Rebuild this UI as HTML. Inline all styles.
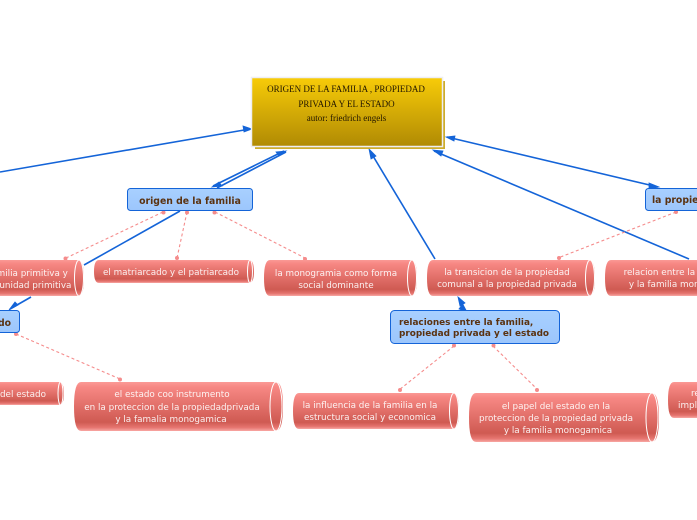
<!DOCTYPE html>
<html><head><meta charset="utf-8">
<style>
html,body{margin:0;padding:0;background:#fff;width:697px;height:520px;overflow:hidden}
svg{display:block}
.w{font:8.8px "DejaVu Sans",sans-serif;fill:#fff;text-anchor:middle;opacity:.9}
.b{font:bold 9.3px "DejaVu Sans",sans-serif;fill:#5a3210}
.s{font:9px "Liberation Serif",serif;fill:#221600;text-anchor:middle}
.blue{fill:url(#bl);stroke:#1464d8;stroke-width:1}
.ln{stroke:#1464d8;stroke-width:1.6;fill:none}
.ar{fill:#1464d8;stroke:#1464d8;stroke-width:.8}
.d{stroke:#f58c8c;stroke-width:1.1;stroke-dasharray:3 2.5;fill:none}
.dot{fill:#f58c8c}
.e{fill:none;stroke:#fff;stroke-width:1}
</style></head><body>
<svg width="697" height="520" viewBox="0 0 697 520" xmlns="http://www.w3.org/2000/svg">
<defs>
<linearGradient id="gold" x1="0" y1="0" x2="0" y2="1"><stop offset="0" stop-color="#f8cc08"/><stop offset="1" stop-color="#b08a04"/></linearGradient>
<linearGradient id="bl" x1="0" y1="0" x2="0" y2="1"><stop offset="0" stop-color="#a8d0ff"/><stop offset="1" stop-color="#9cc6fc"/></linearGradient>
<linearGradient id="cy" x1="0" y1="0" x2="0" y2="1"><stop offset="0" stop-color="#fb9a96"/><stop offset=".1" stop-color="#f78884"/><stop offset=".82" stop-color="#cf5a52"/><stop offset=".93" stop-color="#e67570"/><stop offset="1" stop-color="#f8a8a4"/></linearGradient>
</defs>

<!-- connectors -->
<g class="ln">
<path d="M0 172L250 129"/>
<path d="M213 186L284 151"/><path d="M217 188L286 152"/>
<path d="M180 211L84 265"/><path d="M31 297L10 309"/>
<path d="M435 259L370 151"/>
<path d="M689 259L434 151"/>
<path d="M447 137L658 187"/>
<path d="M459 298L466 311"/>
</g>
<g class="ar">
<path d="M252 129L243 126L244 132Z"/>
<path d="M286 151L276 152L279 156Z"/>
<path d="M212 187L222 186L219 182Z"/>
<path d="M369 149L371 159L376 156Z"/>
<path d="M433 150L441 156L443 151Z"/>
<path d="M446 137L455 136L454 141Z"/>
<path d="M659 187L649 183L649 189Z"/>
<path d="M9 310L18 305L15 302Z"/>
<path d="M458 297L460 306L465 303Z"/>
<path d="M467 312L462 305L459 309Z"/>
</g>
<g class="d">
<path d="M163 212L66 258"/>
<path d="M187 212L177 258"/>
<path d="M215 212L305 258"/>
<path d="M676 212L558 258"/>
<path d="M16 334L120 379"/>
<path d="M454 346L399 390"/>
<path d="M493 346L538 390"/>
</g>
<g class="dot">
<circle cx="163.500" cy="212.500" r="2"/><circle cx="65.500" cy="258.500" r="2"/>
<circle cx="187" cy="212.500" r="2"/><circle cx="177" cy="258" r="2"/>
<circle cx="214.500" cy="212.500" r="2"/><circle cx="305" cy="259" r="2"/>
<circle cx="676" cy="212" r="2"/><circle cx="559" cy="258" r="2"/>
<circle cx="16" cy="334" r="2"/><circle cx="120" cy="379.500" r="2"/>
<circle cx="454" cy="345.500" r="2"/><circle cx="400" cy="390" r="2"/>
<circle cx="493.500" cy="345.500" r="2"/><circle cx="537" cy="390" r="2"/>
</g>

<!-- title -->
<rect x="255" y="81" width="190" height="68" fill="#c9a416" opacity=".9"/>
<rect x="251.500" y="77.500" width="191" height="69" fill="url(#gold)" stroke="#eeeef4" stroke-width="1.500"/>
<text class="s" x="346" y="92">ORIGEN DE LA FAMILIA , PROPIEDAD</text>
<text class="s" x="346.500" y="107">PRIVADA Y EL ESTADO</text>
<text class="s" x="346.500" y="121">autor: friedrich engels</text>

<!-- blue nodes -->
<rect class="blue" x="127.500" y="188.500" width="125" height="22" rx="3"/>
<text class="b" x="190" y="204" text-anchor="middle">origen de la familia</text>
<rect class="blue" x="645.500" y="188.500" width="80" height="22" rx="3"/>
<text class="b" x="652" y="203">la propiedad</text>
<rect class="blue" x="-40" y="310.500" width="59.500" height="22" rx="3"/>
<text class="b" x="11" y="326" text-anchor="end">do</text>
<rect class="blue" x="390.500" y="310.500" width="169" height="33" rx="4"/>
<text class="b" x="399" y="325" style="font-size:8.9px">relaciones entre la familia,</text>
<text class="b" x="399" y="336" style="font-size:8.9px">propiedad privada y el estado</text>

<!-- cylinders -->
<g>
<path fill="url(#cy)" d="M-40 260H78Q84 260 84 278T78 296H-40Z"/>
<ellipse class="e" cx="79" cy="278" rx="4.500" ry="18"/>
<text class="w" x="28" y="276">familia primitiva y</text>
<text class="w" x="26" y="288">comunidad primitiva</text>

<path fill="url(#cy)" d="M99 260H249Q254 260 254 271.500T249 283H99Q94 283 94 271.500T99 260Z"/>
<ellipse class="e" cx="250" cy="271.500" rx="2.500" ry="11.500"/>
<text class="w" x="171" y="275">el matriarcado y el patriarcado</text>

<path fill="url(#cy)" d="M270 260H411Q417 260 417 278T411 296H270Q264 296 264 278T270 260Z"/>
<ellipse class="e" cx="412" cy="278" rx="4.500" ry="18"/>
<text class="w" x="336" y="276">la monogramia como forma</text>
<text class="w" x="336" y="288">social dominante</text>

<path fill="url(#cy)" d="M433 260H589Q595 260 595 278T589 296H433Q427 296 427 278T433 260Z"/>
<ellipse class="e" cx="590" cy="278" rx="4.500" ry="18"/>
<text class="w" x="507" y="275">la transicion de la propiedad</text>
<text class="w" x="507" y="287">comunal a la propiedad privada</text>

<path fill="url(#cy)" d="M611 260H760V296H611Q605 296 605 278T611 260Z"/>
<text class="w" x="683" y="275">relacion entre la propiedad</text>
<text class="w" x="683" y="287">y la familia monogamica</text>

<path fill="url(#cy)" d="M-40 382H59Q64 382 64 393.500T59 405H-40Z"/>
<ellipse class="e" cx="60.500" cy="393.500" rx="2.500" ry="11.500"/>
<text class="w" x="46" y="397" style="text-anchor:end">del estado</text>

<path fill="url(#cy)" d="M81 382H276Q283 382 283 406.500T276 431H81Q74 431 74 406.500T81 382Z"/>
<ellipse class="e" cx="276" cy="406.500" rx="6" ry="24.500"/>
<text class="w" x="172" y="397">el estado coo instrumento</text>
<text class="w" x="172" y="410">en la proteccion de la propiedadprivada</text>
<text class="w" x="171" y="422">y la famalia monogamica</text>

<path fill="url(#cy)" d="M299 393H453Q459 393 459 411T453 429H299Q293 429 293 411T299 393Z"/>
<ellipse class="e" cx="454" cy="411" rx="4.500" ry="18"/>
<text class="w" x="370" y="408">la influencia de la familia en la</text>
<text class="w" x="370" y="420">estructura social y economica</text>

<path fill="url(#cy)" d="M476 393H652Q659 393 659 417.500T652 442H476Q469 442 469 417.500T476 393Z"/>
<ellipse class="e" cx="652" cy="417.500" rx="6" ry="24.500"/>
<text class="w" x="556" y="409">el papel del estado en la</text>
<text class="w" x="556" y="421">proteccion de la propiedad privada</text>
<text class="w" x="558" y="433">y la familia monogamica</text>

<path fill="url(#cy)" d="M674 382H760V418H674Q668 418 668 400T674 382Z"/>
<text class="w" x="691" y="396" style="text-anchor:start">re</text>
<text class="w" x="678" y="408" style="text-anchor:start">impl</text>
</g>
</svg>
</body></html>
